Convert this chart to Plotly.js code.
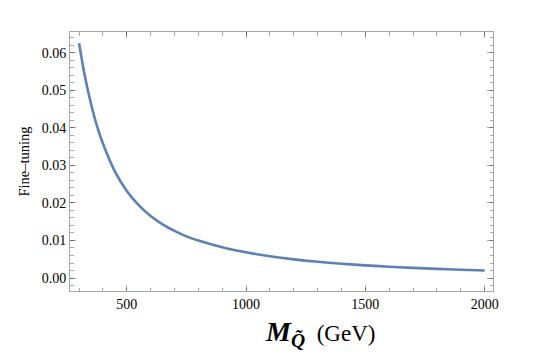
<!DOCTYPE html>
<html>
<head>
<meta charset="utf-8">
<script src="https://cdn.plot.ly/plotly-3.0.1.min.js"></script>
<style>
  html, body { margin: 0; padding: 0; background: #fff; }
  #chart { width: 533px; height: 363px; }
</style>
</head>
<body>
<div id="chart"></div>
<script>
"use strict"
// squark mass (GeV) and fine-tuning
var mass = [300, 325, 350, 375, 400, 450, 500, 550, 600, 650, 700, 750, 800,
  900, 1000, 1100, 1200, 1300, 1400, 1500, 1600, 1700, 1800, 1900, 2000];
var fineTuning = [0.0625, 0.0535, 0.0464, 0.0405, 0.0358, 0.0284, 0.0232, 0.0194,
  0.0165, 0.0143, 0.01255, 0.0111, 0.0100, 0.0082, 0.00685, 0.00579, 0.00497,
  0.00432, 0.0038, 0.00338, 0.00302, 0.00271, 0.00245, 0.00222, 0.00202];

var xTicks = [500, 1000, 1500, 2000];
var yTicks = [0.00, 0.01, 0.02, 0.03, 0.04, 0.05, 0.06];
var yTickText = ['0.00', '0.01', '0.02', '0.03', '0.04', '0.05', '0.06'];

var frameColor = 'rgba(0,0,0,0.35)';
var serif = 'Liberation Serif';

var trace = {
  x: mass,
  y: fineTuning,
  type: 'scatter',
  mode: 'lines',
  line: {color: 'rgb(94,129,181)', width: 2.6, shape: 'spline'},
  hoverinfo: 'skip'
};

var layout = {
  width: 533,
  height: 363,
  margin: {l: 70, r: 40, t: 32, b: 72},
  paper_bgcolor: '#fff',
  plot_bgcolor: '#fff',
  showlegend: false,
  font: {family: serif, color: '#000'},
  xaxis: {
    range: [262, 2035],
    tickvals: xTicks,
    ticks: 'inside',
    ticklen: 6,
    tickwidth: 1,
    tickcolor: frameColor,
    minor: {dtick: 100, tick0: 0, ticks: 'inside', ticklen: 3.5, tickcolor: frameColor, showgrid: false},
    showline: true,
    linecolor: frameColor,
    linewidth: 1,
    mirror: 'ticks',
    showgrid: false,
    zeroline: false,
    tickfont: {family: serif, size: 14, color: '#000'}
  },
  yaxis: {
    range: [-0.00345, 0.0655],
    tickvals: yTicks,
    ticktext: yTickText,
    ticks: 'inside',
    ticklen: 6,
    tickwidth: 1,
    tickcolor: frameColor,
    minor: {dtick: 0.002, tick0: 0, ticks: 'inside', ticklen: 3.5, tickcolor: frameColor, showgrid: false},
    showline: true,
    linecolor: frameColor,
    linewidth: 1,
    mirror: 'ticks',
    showgrid: false,
    zeroline: false,
    tickfont: {family: serif, size: 14, color: '#000'},
    title: {
      text: 'Fine\u2013tuning',
      font: {family: serif, size: 14.5, color: '#000'},
      standoff: 8
    }
  },
  annotations: [{
    xref: 'paper',
    yref: 'paper',
    x: 0.592,
    y: -0.165,
    xanchor: 'center',
    yanchor: 'middle',
    showarrow: false,
    text: '<b><i>M</i></b><sub><b><i>Q\u0303</i></b></sub>\u00a0<span style="font-size:23px">\u2009(GeV)</span>',
    font: {family: serif, size: 28, color: '#000'}
  }]
};

Plotly.newPlot('chart', [trace], layout, {displayModeBar: false, staticPlot: true});
</script>
</body>
</html>
